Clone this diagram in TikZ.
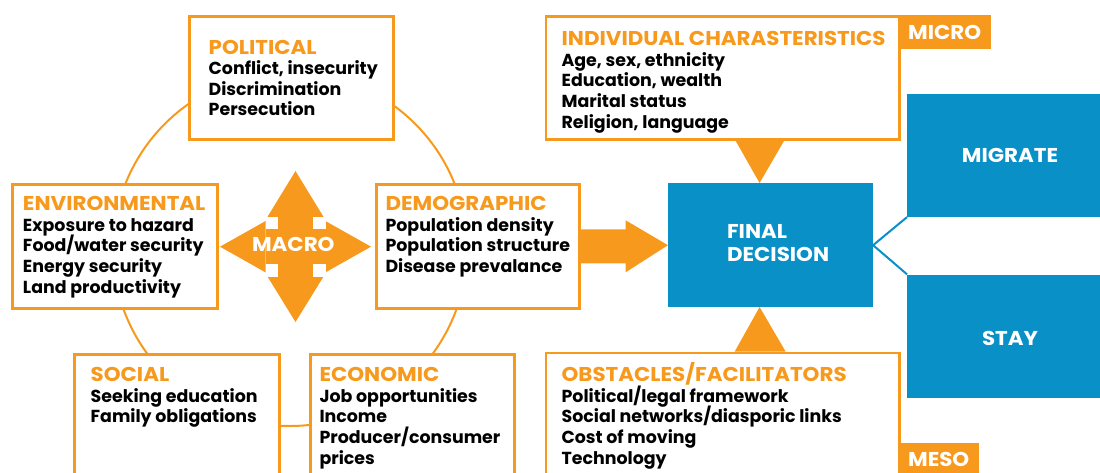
\documentclass[tikz,border=0pt]{standalone}
\usepackage{fontspec}
\setmainfont{Poppins}
\newfontfamily\widefont{Poppins}[FakeStretch=1.07]
\definecolor{org}{RGB}{247,153,29}
\definecolor{blu}{RGB}{8,144,199}
\newcommand{\ttl}[1]{\hbox{\color{org}\widefont\bfseries\fontsize{20}{20.6}\selectfont #1}}
\newcommand{\rowx}[1]{\hbox{#1}}
\newcommand{\stackx}[2][20.6pt]{\vtop{\baselineskip=#1\lineskiplimit=-60pt\lineskip=0pt #2}}
\begin{document}
\begin{tikzpicture}[x=1pt,y=-1pt,
 obox/.style={draw=org, line width=2.6pt, fill=white, inner sep=0pt, anchor=north west},
 bbox/.style={fill=blu, inner sep=0pt, anchor=north west},
 tag/.style={fill=org, inner sep=0pt, anchor=north west},
 txt/.style={anchor=base west, inner sep=0pt, font=\bfseries\fontsize{17.4}{20.6}\selectfont, text=black},
 wtxt/.style={text=white, inner sep=0pt, font=\widefont\bfseries\fontsize{20}{23}\selectfont}]
\useasboundingbox (0,0) rectangle (1100,472);
\clip (0,0) rectangle (1100,472);
% macro circle
\draw[org, line width=2pt] (290,249) circle[radius=177pt];
% boxes
\node[obox, minimum width=204pt, minimum height=123pt] (pol) at (188,15) {};
\node[obox, minimum width=205pt, minimum height=124pt] (env) at (11,183) {};
\node[obox, minimum width=203pt, minimum height=124pt] (dem) at (375,183) {};
\node[obox, minimum width=205pt, minimum height=140pt] (soc) at (73,353) {};
\node[obox, minimum width=204pt, minimum height=140pt] (eco) at (309,353) {};
\node[obox, minimum width=353.4pt, minimum height=123pt] (ind) at (544.6,15) {};
\node[obox, minimum width=353.4pt, minimum height=140pt] (obs) at (544.6,351.7) {};
\node[tag, minimum width=92.7pt, minimum height=34pt] (micro) at (898,14.3) {};
\node[tag, minimum width=80.6pt, minimum height=40pt] (meso) at (898,442.3) {};
\node[bbox, minimum width=204.7pt, minimum height=124pt] (fd) at (668,183) {};
\node[bbox, minimum width=220pt, minimum height=123.4pt] (mig) at (907,93.3) {};
\node[bbox, minimum width=220pt, minimum height=123.4pt] (stay) at (907,274.3) {};
% block arrow demographic -> final decision
\fill[org] ([yshift=17pt]dem.east) -- ([yshift=17pt,xshift=45pt]dem.east)
  -- ([yshift=26pt,xshift=45pt]dem.east) -- (fd.west)
  -- ([yshift=-26pt,xshift=45pt]dem.east) -- ([yshift=-17pt,xshift=45pt]dem.east)
  -- ([yshift=-17pt]dem.east) -- cycle;
% micro / meso triangles
\fill[org] (734,138) -- (785.7,138) -- (759.6,183) -- cycle;
\fill[org] (734.6,351.7) -- (785.7,351.7) -- (759.6,307) -- cycle;
% decision branches
\draw[blu, line width=2pt] (mig.south west) -- (fd.east) -- (stay.north west);
% macro four-way arrow
\fill[org] (265.5,216.7) rectangle (325.5,276.7);
\fill[org] (295.5,171) -- (323.5,216.8) -- (267.5,216.8) -- cycle;
\fill[org] (295.5,322) -- (323.5,276.6) -- (267.5,276.6) -- cycle;
\fill[org] (220,246.7) -- (265.6,221) -- (265.6,272.4) -- cycle;
\fill[org] (371,246.7) -- (325.4,221) -- (325.4,272.4) -- cycle;
\fill[white] (265.5,216.7) rectangle (278.2,229.4);
\fill[white] (312.8,216.7) rectangle (325.5,229.4);
\fill[white] (265.5,264) rectangle (278.2,276.7);
\fill[white] (312.8,264) rectangle (325.5,276.7);
\node[wtxt] (macro) at (293.3,244) {MACRO};
% texts
\node[txt] (polt) at (208.5,54) {\stackx{\ttl{POLITICAL}\rowx{Conflict, insecurity}\rowx{Discrimination}\rowx{Persecution}}};
\node[txt] (envt) at (22.8,210.7) {\stackx{\ttl{ENVIRONMENTAL}\rowx{Exposure to hazard}\rowx{Food/water security}\rowx{Energy security}\rowx{Land productivity}}};
\node[txt] (demt) at (385.3,210.7) {\stackx{\ttl{DEMOGRAPHIC}\rowx{Population density}\rowx{Population structure}\rowx{Disease prevalance}}};
\node[txt] (soct) at (90.5,381.7) {\stackx{\ttl{SOCIAL}\rowx{Seeking education}\rowx{Family obligations}}};
\node[txt] (ecot) at (319.3,381.7) {\stackx{\ttl{ECONOMIC}\rowx{Job opportunities}\rowx{Income}\rowx{Producer/consumer}\rowx{prices}}};
\node[txt] (indt) at (561.4,45.7) {\stackx{\ttl{INDIVIDUAL CHARASTERISTICS}\rowx{Age, sex, ethnicity}\rowx{Education, wealth}\rowx{Marital status}\rowx{Religion, language}}};
\node[txt] (obst) at (561.4,381.7) {\stackx{\ttl{OBSTACLES/FACILITATORS}\rowx{Political/legal framework}\rowx{Social networks/diasporic links}\rowx{Cost of moving}\rowx{Technology}}};
\node[wtxt, anchor=base west] (fdt) at (726.8,238) {\stackx[23pt]{\rowx{FINAL}\rowx{DECISION}}};
\node[wtxt] (migt) at (1010,155) {MIGRATE};
\node[wtxt] (stayt) at (1010,338) {STAY};
\node[wtxt, anchor=base west] (microt) at (907.9,39.3) {MICRO};
\node[wtxt, anchor=base west] (mesot) at (907.9,466.5) {MESO};
\end{tikzpicture}
\end{document}
